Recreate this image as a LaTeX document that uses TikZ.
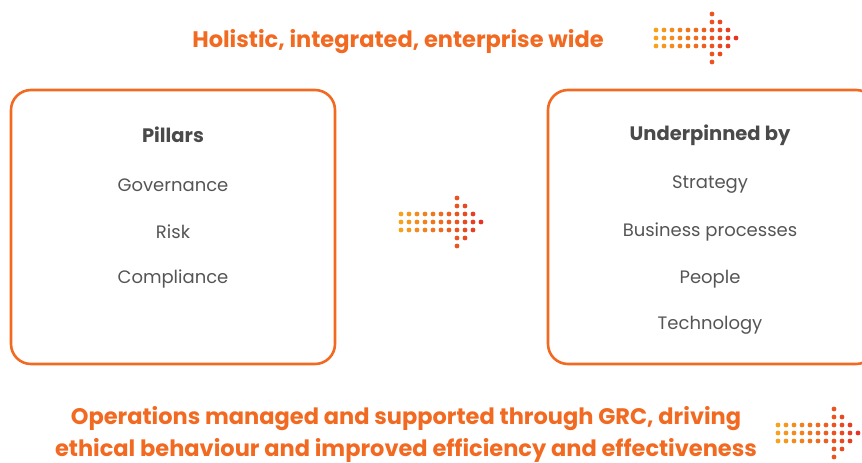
\documentclass[tikz,border=0pt]{standalone}
\usepackage{fontspec}
\setmainfont{Poppins}
\usepackage{tikz}
\usetikzlibrary{calc}

\definecolor{grcorange}{HTML}{F26A21}
\definecolor{dotorange}{HTML}{F7A21B}
\definecolor{dotred}{HTML}{E63323}
\definecolor{textgrey}{HTML}{4A4A4A}
\definecolor{itemgrey}{HTML}{555555}

\tikzset{
  pillarbox/.style={draw=grcorange, line width=2.6pt, rounded corners=20pt},
  headtext/.style={font=\fontsize{19.5}{22}\selectfont\bfseries, text=textgrey},
  itemtext/.style={font=\fontsize{18}{21}\selectfont, text=itemgrey},
  bannertext/.style={font=\fontsize{22.5}{26}\selectfont\bfseries, text=grcorange, align=center}
}

% dotted arrow, #1 is the first dot of the middle row
\newcommand{\dotarrow}[1]{
  \foreach \c in {0,...,10} {
    \pgfmathtruncatemacro\h{\c<7 ? 1 : 10-\c}
    \pgfmathtruncatemacro\lo{-\h}
    \pgfmathtruncatemacro\p{\c*10}
    \foreach \r in {\lo,...,\h}
      \fill[dotred!\p!dotorange] ($(#1)+(8*\c,8*\r)$) circle (2.4);
  }
}

\begin{document}
\begin{tikzpicture}[x=1pt,y=-1pt]

    \useasboundingbox (0,0) rectangle (862,463);
    \clip (0,0) rectangle (862,463);

    \node[bannertext] at (398,42) (top_banner) {Holistic, integrated, enterprise wide};
    \coordinate (top_arrow) at (656,38);
    \dotarrow{top_arrow}

    \draw[pillarbox] (11,90) rectangle (335,364);
    \node[headtext] at (173,135) (pillars_head) {Pillars};
    \node[itemtext] at (173,185) (pillar_gov) {Governance};
    \node[itemtext] at (173,232) (pillar_risk) {Risk};
    \node[itemtext] at (173,279) (pillar_comp) {Compliance};

    \coordinate (mid_arrow) at (401,222);
    \dotarrow{mid_arrow}

    \draw[pillarbox] (548,90) rectangle (876,364);
    \node[headtext] at (710,135) (under_head) {Underpinned by};
    \node[itemtext] at (710,185) (under_strat) {Strategy};
    \node[itemtext] at (710,232) (under_proc) {Business processes};
    \node[itemtext] at (710,279) (under_people) {People};
    \node[itemtext] at (710,325) (under_tech) {Technology};

    \node[bannertext] at (406,419) (bottom_line1) {Operations managed and supported through GRC, driving};
    \node[bannertext] at (406,450) (bottom_line2) {ethical behaviour and improved efficiency and effectiveness};
    \coordinate (bottom_arrow) at (778,433);
    \dotarrow{bottom_arrow}

\end{tikzpicture}
\end{document}
